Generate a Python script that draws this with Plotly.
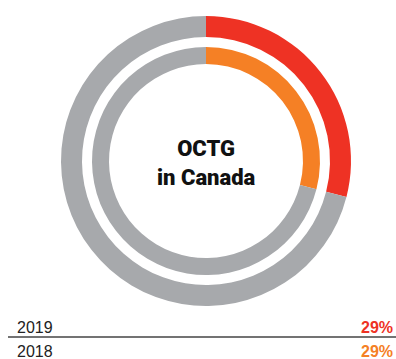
import plotly.graph_objects as go

# Share of OCTG market in Canada, by year
years = ["2019", "2018"]
shares = [29, 29]
colors = ["#EE3224", "#F58025"]
rest_color = "#A7A9AC"

W, H = 396, 359
cx, cy = 206, 161  # ring centre in px from top-left


def domain(radius):
    return dict(
        x=[(cx - radius) / W, (cx + radius) / W],
        y=[(H - cy - radius) / H, (H - cy + radius) / H],
    )


fig = go.Figure()

rings = [(145, 124), (114, 97)]  # (outer radius, inner radius) px
for (year, share, col), (ro, ri) in zip(zip(years, shares, colors), rings):
    fig.add_trace(go.Pie(
        values=[share, 100 - share],
        labels=[year, "other"],
        marker=dict(colors=[col, rest_color], line=dict(width=0)),
        hole=ri / ro,
        sort=False,
        direction="clockwise",
        rotation=0,
        textinfo="none",
        hoverinfo="label+percent",
        domain=domain(ro),
        showlegend=False,
    ))

fig.add_annotation(
    x=cx / W, y=1 - 163 / H, xref="paper", yref="paper",
    text="OCTG<br>in Canada", showarrow=False,
    font=dict(family="Roboto, Arial", size=22, color="#111", weight=900),
    align="center",
)

row_y = [327, 351]
for year, share, col, yy in zip(years, shares, colors, row_y):
    fig.add_annotation(
        x=15 / W, y=1 - yy / H, xref="paper", yref="paper",
        text=year, showarrow=False, xanchor="left", yanchor="middle",
        font=dict(family="Liberation Sans, Arial", size=16, color="#222"),
    )
    fig.add_annotation(
        x=395 / W, y=1 - yy / H, xref="paper", yref="paper",
        text=f"<b>{share}%</b>", showarrow=False, xanchor="right", yanchor="middle",
        font=dict(family="Liberation Sans, Arial", size=16, color=col),
    )

fig.add_shape(
    type="line", xref="paper", yref="paper",
    x0=8 / W, x1=1, y0=1 - 337 / H, y1=1 - 337 / H,
    line=dict(color="#444444", width=1.5),
)

fig.update_layout(
    width=W, height=H,
    margin=dict(l=0, r=0, t=0, b=0),
    paper_bgcolor="white", plot_bgcolor="white",
)

fig.write_html("out.html")
